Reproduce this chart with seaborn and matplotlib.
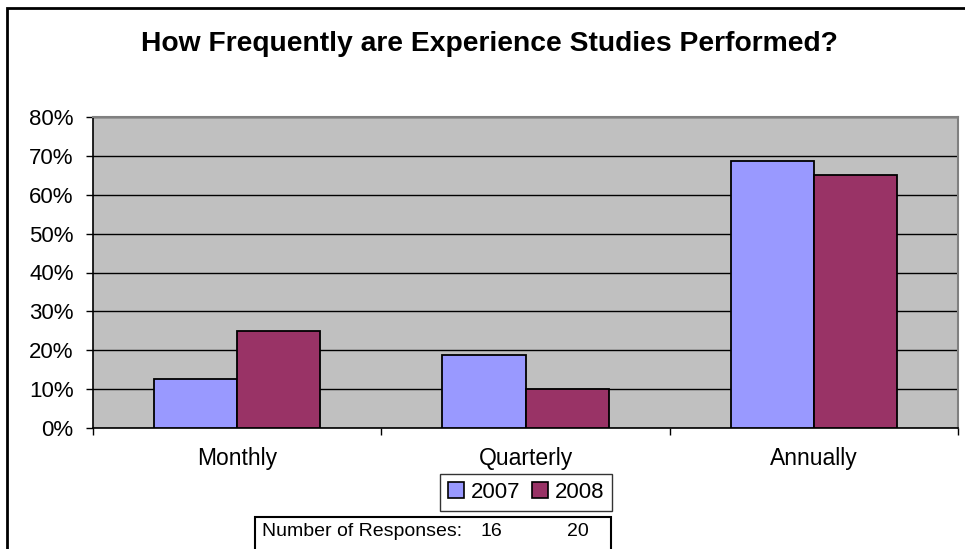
import matplotlib
matplotlib.use("Agg")
import matplotlib.pyplot as plt
from matplotlib.patches import Rectangle, Patch
from matplotlib.ticker import PercentFormatter, FixedLocator
import seaborn as sns
import pandas as pd

# Survey data: share of respondents by study frequency
categories = ["Monthly", "Quarterly", "Annually"]
years = ["2007", "2008"]
share_2007 = [12.5, 18.75, 68.75]
share_2008 = [25.0, 10.0, 65.0]
responses = [16, 20]
title = "How Frequently are Experience Studies Performed?"

colors = {"2007": "#9999FF", "2008": "#993366"}

df = pd.DataFrame({
    "frequency": categories * 2,
    "year": [years[0]] * 3 + [years[1]] * 3,
    "share": share_2007 + share_2008,
})

sns.set_style("white")
plt.rcParams["font.family"] = ["Liberation Sans", "DejaVu Sans"]
plt.rcParams.update({"text.color": "black", "xtick.color": "black",
                     "ytick.color": "black", "axes.labelcolor": "black"})

W, H = 965, 549
fig = plt.figure(figsize=(W / 100, H / 100), dpi=100)
fig.patch.set_facecolor("white")

# plot area in pixel coordinates
L, R, T, B = 93, 958, 117, 428
ax = fig.add_axes([L / W, 1 - B / H, (R - L) / W, (B - T) / H])
ax.set_facecolor("#C0C0C0")

sns.barplot(data=df, x="frequency", y="share", hue="year", order=categories,
            hue_order=years, palette=colors, width=0.577, edgecolor="black",
            linewidth=1.3, saturation=1, ax=ax, legend=False, zorder=3)

ax.set_xlim(-0.5, 2.5)
ax.set_ylim(0, 80)
ax.set_yticks(range(0, 81, 10))
ax.yaxis.set_major_formatter(PercentFormatter(decimals=0))
ax.grid(axis="y", color="black", linewidth=1)
ax.grid(axis="x", visible=False)
ax.set_axisbelow(True)
ax.set_xlabel("")
ax.set_ylabel("")

ax.tick_params(axis="y", which="major", direction="out", length=5, width=1,
               color="black", labelsize=16, labelcolor="black", pad=9, left=True)
ax.tick_params(axis="x", which="major", length=0, labelsize=16.5,
               labelcolor="black", pad=14)
ax.xaxis.set_minor_locator(FixedLocator([-0.5, 0.5, 1.5, 2.5]))
ax.tick_params(axis="x", which="minor", direction="out", length=5, width=1,
               color="black", bottom=True)

for side in ("left", "bottom"):
    ax.spines[side].set_color("black")
    ax.spines[side].set_linewidth(1.2)
for side in ("top", "right"):
    ax.spines[side].set_visible(True)
    ax.spines[side].set_color("#808080")
    ax.spines[side].set_linewidth(1.5)

# title
fig.text(489.5 / W, 1 - 44 / H, title, ha="center", va="center",
         fontsize=20.3, fontweight="bold", color="black")

# legend
handles = [Patch(facecolor=colors[y], edgecolor="black", linewidth=1.2, label=y)
           for y in years]
leg = fig.legend(handles=handles, loc="center",
                 bbox_to_anchor=(526 / W, 1 - 492.5 / H), ncol=2, fontsize=16,
                 frameon=True, fancybox=False, edgecolor="black",
                 handlelength=0.75, handleheight=0.75, handletextpad=0.3,
                 columnspacing=0.5, borderpad=0.35, borderaxespad=0)
leg.get_frame().set_linewidth(1)
for t in leg.get_texts():
    t.set_color("black")

# response count box
fig.patches.append(Rectangle((255 / W, -0.05), (611 - 255) / W,
                             0.05 + 1 - 517 / H, transform=fig.transFigure,
                             fill=False, edgecolor="black", linewidth=1.5))
ty = 1 - 531 / H
fig.text(262 / W, ty, "Number of Responses:", ha="left", va="center",
         fontsize=14, color="black")
fig.text(480 / W, ty, str(responses[0]), ha="left", va="center",
         fontsize=14, color="black")
fig.text(567 / W, ty, str(responses[1]), ha="left", va="center",
         fontsize=14, color="black")

# outer chart border
fig.patches.append(Rectangle((7 / W, -0.05), 1.0, 0.05 + 1 - 7.5 / H,
                             transform=fig.transFigure, fill=False,
                             edgecolor="black", linewidth=2))

fig.savefig("out.png", dpi=100)
